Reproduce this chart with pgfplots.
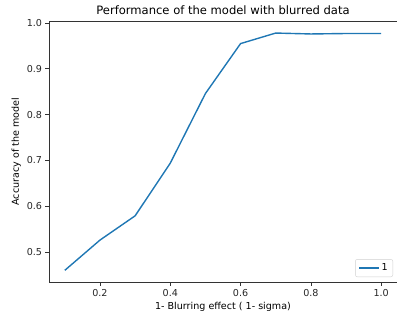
\documentclass[border=0pt]{standalone}
\usepackage{pgfplots}
\pgfplotsset{compat=1.18}
\usepackage{fontspec}
\setmainfont{DejaVu Sans}
\definecolor{mplblue}{HTML}{1F77B4}
\definecolor{spine}{HTML}{333333}
\begin{document}
\begin{tikzpicture}
\useasboundingbox (-49bp,-35bp) rectangle (348bp,282bp);
\begin{axis}[
  scale only axis,
  width=348bp, height=260.4bp,
  xmin=0.055, xmax=1.045,
  ymin=0.4345, ymax=1.003,
  axis x line*=bottom, axis y line*=left,
  axis line style={spine, line width=0.7pt},
  tick align=outside,
  major tick length=3.5bp,
  tick style={spine, line width=0.7pt},
  xtick={0.2,0.4,0.6,0.8,1.0},
  ytick={0.5,0.6,0.7,0.8,0.9,1.0},
  /pgf/number format/assume math mode=true,
  /pgf/number format/.cd, fixed, fixed zerofill, precision=1, /pgfplots/.cd,
  ticklabel style={font=\fontsize{9.6}{11}\selectfont, text=black!85},
  xticklabel style={yshift=-0.5bp},
  title={Performance of the model with blurred data},
  title style={font=\fontsize{11.6}{13}\selectfont, yshift=-2.5bp},
  xlabel={1- Blurring effect ( 1- sigma)},
  ylabel={Accuracy of the model},
  label style={font=\fontsize{9.6}{11}\selectfont},
  xlabel style={yshift=1bp},
  ylabel style={yshift=-1bp},
  legend style={at={(1,0)}, anchor=south east, xshift=-4bp, yshift=5bp,
    font=\fontsize{9.6}{11}\selectfont, draw=black!18, rounded corners=2pt,
    inner xsep=3bp, inner ysep=2.5bp},
  legend cell align=left,
  legend image code/.code={\draw[#1] (0bp,0bp) -- (20bp,0bp);},
]
\addplot[color=mplblue, line width=1.4pt] coordinates {
(0.1,0.460) (0.2,0.526) (0.3,0.579) (0.4,0.694) (0.5,0.846)
(0.6,0.955) (0.7,0.978) (0.8,0.976) (0.9,0.977) (1.0,0.977)
};
\addlegendentry{1}
\draw[spine, line width=0.7pt] (rel axis cs:0,1) -- (rel axis cs:1,1);
\end{axis}
\end{tikzpicture}
\end{document}
